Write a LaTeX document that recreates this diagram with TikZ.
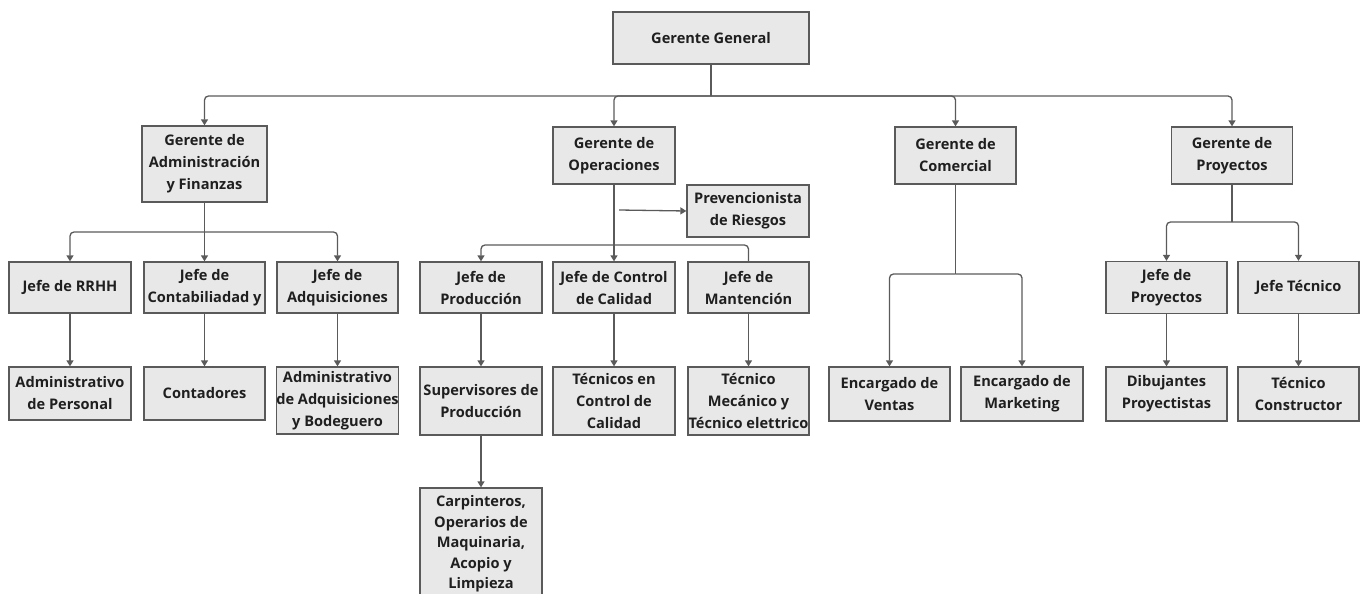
\documentclass[tikz,border=0pt]{standalone}
\usepackage{fontspec}
\setmainfont{Open Sans}
\usetikzlibrary{arrows.meta}
\definecolor{linegray}{HTML}{5A5A5A}
\definecolor{boxgray}{HTML}{E8E8E8}
\tikzset{
  orgbox/.style={draw=linegray, fill=boxgray, line width=1.3pt, align=center, inner sep=0pt,
    font=\bfseries\fontsize{14.6}{22}\selectfont, text=black!88},
  conn/.style={draw=linegray, line width=1.3pt, rounded corners=4pt},
  arr/.style={conn, -{Triangle[length=6pt,width=7pt]}}
}
\begin{document}
\begin{tikzpicture}[x=1pt,y=-1pt]
\useasboundingbox (0,0) rectangle (1360,594);
\begin{scope}
\clip (0,0) rectangle (1360,594);
% level 1
\node[orgbox, minimum width=196, minimum height=52] (gg) at (711,38) {Gerente General};
% level 2
\node[orgbox, minimum width=125, minimum height=76] (gaf) at (204.5,164) {Gerente de\\Administración\\y Finanzas};
\node[orgbox, minimum width=122, minimum height=57] (gop) at (614,155.5) {Gerente de\\Operaciones};
\node[orgbox, minimum width=121, minimum height=57] (gco) at (955.5,155.5) {Gerente de\\Comercial};
\node[orgbox, minimum width=121, minimum height=57] (gpr) at (1232,155.5) {Gerente de\\Proyectos};
% admin branch
\node[orgbox, minimum width=122, minimum height=51] (jrh) at (70,287.5) {Jefe de RRHH};
\node[orgbox, minimum width=121, minimum height=51] (jco) at (204.5,287.5) {Jefe de\\Contabiliadad y};
\node[orgbox, minimum width=121, minimum height=51] (jad) at (337.5,287.5) {Jefe de\\Adquisiciones};
\node[orgbox, minimum width=122, minimum height=53] (adp) at (70,393.5) {Administrativo\\de Personal};
\node[orgbox, minimum width=121, minimum height=53] (cont) at (204.5,393.5) {Contadores};
\node[orgbox, minimum width=121, minimum height=67] (aab) at (337.5,400.5) {Administrativo\\de Adquisiciones\\y Bodeguero};
% operations branch
\node[orgbox, minimum width=122, minimum height=52] (prev) at (748,211) {Prevencionista\\de Riesgos};
\node[orgbox, minimum width=122, minimum height=51] (jpr) at (481,287.5) {Jefe de\\Producción};
\node[orgbox, minimum width=122, minimum height=51] (jcc) at (614,287.5) {Jefe de Control\\de Calidad};
\node[orgbox, minimum width=121, minimum height=51] (jma) at (748.5,287.5) {Jefe de\\Mantención};
\node[orgbox, minimum width=122, minimum height=68] (sup) at (481,401) {Supervisores de\\Producción};
\node[orgbox, minimum width=122, minimum height=68] (tcc) at (614,401) {Técnicos en\\Control de\\Calidad};
\node[orgbox, minimum width=121, minimum height=68] (tme) at (748.5,401) {Técnico\\Mecánico y\\Técnico elettrico};
\node[orgbox, minimum width=122, minimum height=112, font=\bfseries\fontsize{14.6}{20.5}\selectfont] (carp) at (481,544) {Carpinteros,\\Operarios de\\Maquinaria,\\Acopio y\\Limpieza};
% commercial branch
\node[orgbox, minimum width=121, minimum height=54] (ven) at (889.5,394) {Encargado de\\Ventas};
\node[orgbox, minimum width=122, minimum height=54] (mkt) at (1022,394) {Encargado de\\Marketing};
% projects branch
\node[orgbox, minimum width=121, minimum height=52] (jpy) at (1166.5,287.5) {Jefe de\\Proyectos};
\node[orgbox, minimum width=121, minimum height=52] (jte) at (1298.5,287.5) {Jefe Técnico};
\node[orgbox, minimum width=121, minimum height=54] (dib) at (1166.5,394) {Dibujantes\\Proyectistas};
\node[orgbox, minimum width=121, minimum height=54] (tco) at (1298.5,394) {Técnico\\Constructor};

% bus junctions
\coordinate (b0) at (711,96);
\coordinate (b1) at (204.5,232);
\coordinate (b2) at (614,245);
\coordinate (b3) at (955.5,274);
\coordinate (b4) at (1232,222);
\coordinate (pv) at (619,210);

% top level
\draw[conn] (gg.south) -- (b0);
\draw[arr] (b0) -| (gaf.north);
\draw[arr] (b0) -| (gop.north);
\draw[arr] (b0) -| (gco.north);
\draw[arr] (b0) -| (gpr.north);
% admin
\draw[conn] (gaf.south) -- (b1);
\draw[arr] (b1) -| (jrh.north);
\draw[arr] (b1) -- (jco.north);
\draw[arr] (b1) -| (jad.north);
\draw[arr] (jrh) -- (adp);
\draw[arr] (jco) -- (cont);
\draw[arr] (jad) -- (aab);
% operations
\draw[arr] (gop.south) -- (jcc.north);
\draw[arr] (pv) -- (prev.west);
\draw[arr] (b2) -| (jpr.north);
\draw[conn] (b2) -| (jma.north);
\draw[arr] (jpr) -- (sup);
\draw[arr] (sup) -- (carp.north);
\draw[arr] (jcc) -- (tcc);
\draw[arr] (jma) -- (tme);
% commercial
\draw[conn] (gco.south) -- (b3);
\draw[arr] (b3) -| (ven.north);
\draw[arr] (b3) -| (mkt.north);
% projects
\draw[conn] (gpr.south) -- (b4);
\draw[arr] (b4) -| (jpy.north);
\draw[arr] (b4) -| (jte.north);
\draw[arr] (jpy) -- (dib);
\draw[arr] (jte) -- (tco);
\end{scope}
\end{tikzpicture}
\end{document}
